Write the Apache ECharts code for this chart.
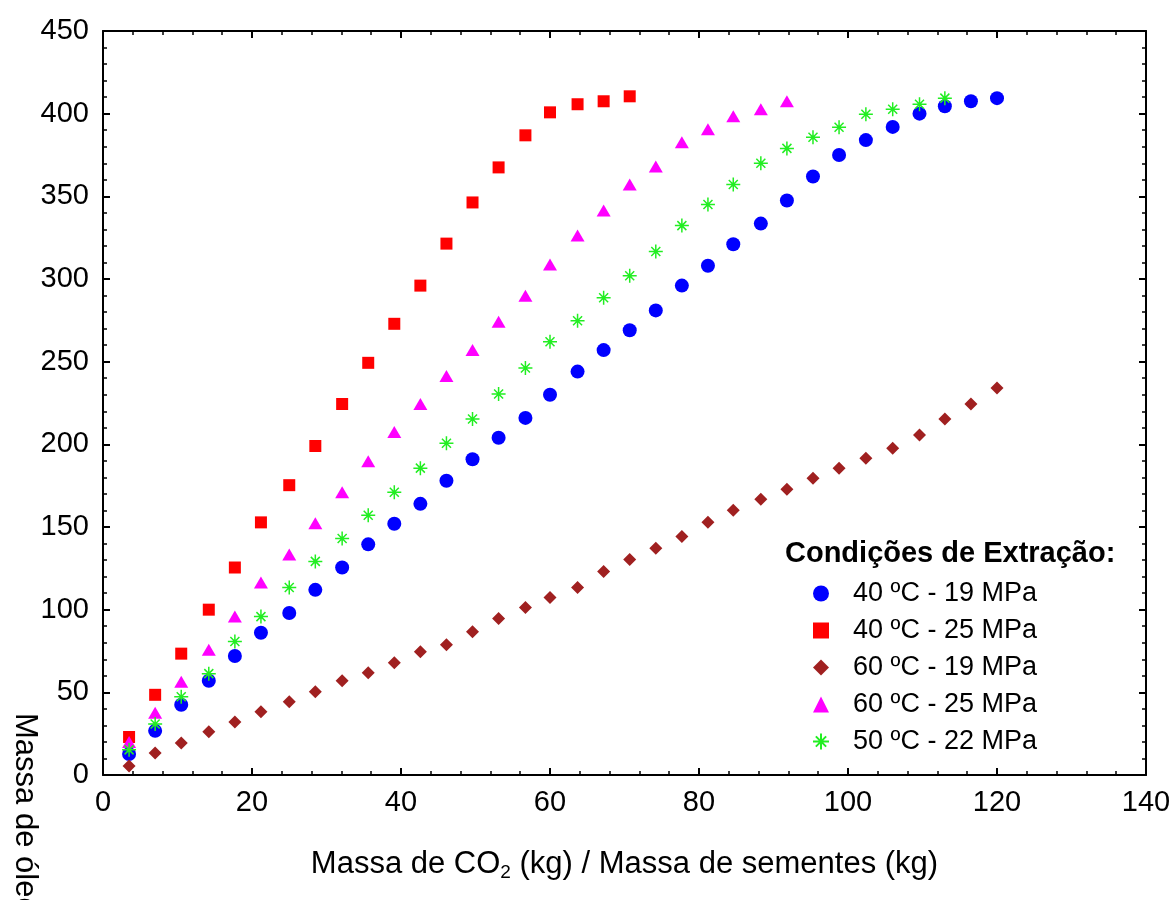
<!DOCTYPE html>
<html><head><meta charset="utf-8">
<script src="https://cdn.jsdelivr.net/npm/echarts@6/dist/echarts.min.js"></script>
<style>html,body{margin:0;padding:0;background:#fff}#c{width:1176px;height:900px}</style>
</head><body><div id="c"></div>
<script>
const xs = [3.5, 7.0, 10.5, 14.2, 17.7, 21.2, 25.0, 28.5, 32.1, 35.6, 39.1, 42.6, 46.1, 49.6, 53.1, 56.7, 60.0, 63.7, 67.2, 70.7, 74.2, 77.7, 81.2, 84.6, 88.3, 91.8, 95.3, 98.8, 102.4, 106.0, 109.6, 113.0, 116.5, 120.0];
const s40_19 = [12.7, 26.7, 42.5, 57, 72, 86, 98, 112, 125.5, 139.5, 152, 164, 178, 191, 204, 216, 230, 244, 257, 269, 281, 296, 308, 321, 333.5, 347.5, 362, 375, 384, 392, 400, 404.5, 407.5, 409.4];
const s40_25 = [23, 48.5, 73.4, 100, 125.5, 152.8, 175.3, 199, 224.4, 249.3, 272.9, 296, 321.4, 346.3, 367.5, 386.9, 400.8, 405.7, 407.5, 410.5];
const s60_19 = [5.5, 13.3, 19.4, 26.1, 32.1, 38.2, 44.3, 50.3, 57, 61.9, 67.9, 74.6, 78.8, 86.7, 94.6, 101.3, 107.3, 113.4, 123.1, 130.4, 137.1, 144.3, 152.8, 160.1, 166.8, 172.8, 179.5, 185.6, 191.6, 197.7, 205.6, 215.3, 224.4, 234.1];
const s60_25 = [20, 37.6, 56.4, 75.8, 95.8, 116.4, 133.4, 152.2, 171, 189.8, 207.4, 224.4, 241.4, 257.1, 274.1, 289.9, 308.7, 326.3, 341.4, 357.2, 368.1, 382.7, 390.6, 398.4, 402.7, 407.5];
const s50_22 = [15.2, 30.9, 47.3, 61.3, 80.7, 95.8, 113.4, 129.2, 143.1, 157.1, 171, 185.6, 200.7, 215.3, 230.5, 246.2, 262, 274.7, 288.7, 302, 316.6, 332.3, 345.1, 357.2, 370, 379, 385.7, 391.8, 399.7, 402.7, 405.7, 409.4];
const seriesNames = ['40 ºC - 19 MPa', '40 ºC - 25 MPa', '60 ºC - 19 MPa', '60 ºC - 25 MPa', '50 ºC - 22 MPa'];
const xTitle = 'Massa de CO{sub|2} (kg) / Massa de sementes (kg)';
const yTitle = 'Massa de óleo (g)';
const legendTitle = 'Condições de Extração:';

const FONT = '"Liberation Sans", Arial, sans-serif';
const pair = ys => ys.map((y, i) => [xs[i], y]);
const asterisk = 'path://M7 0 L7 14 M0 7 L14 7 M2.5 2.5 L11.5 11.5 M11.5 2.5 L2.5 11.5';

const chart = echarts.init(document.getElementById('c'), null, {renderer: 'canvas'});
const axisCommon = {
  axisLine: {show: true, onZero: false, lineStyle: {color: '#000', width: 2}},
  axisTick: {show: true, inside: true, length: 7, lineStyle: {color: '#000', width: 2}},
  minorTick: {show: true, splitNumber: 5, length: 4, lineStyle: {color: '#000', width: 1.5}},
  splitLine: {show: false}
};
chart.setOption({
  animation: false,
  backgroundColor: '#fff',
  textStyle: {fontFamily: FONT},
  grid: {left: 103, right: 30, top: 31, bottom: 125, containLabel: false},
  xAxis: [
    Object.assign({type: 'value', min: 0, max: 140, interval: 20, position: 'bottom',
      name: xTitle, nameLocation: 'middle', nameGap: 72,
      nameTextStyle: {fontSize: 31, color: '#000', fontFamily: FONT,
        rich: {sub: {fontSize: 19, verticalAlign: 'bottom', padding: [16, 0, 0, 0], color: '#000', fontFamily: FONT}}},
      axisLabel: {fontSize: 29, color: '#000', margin: 13, fontFamily: FONT}}, axisCommon),
    Object.assign({type: 'value', min: 0, max: 140, interval: 20, position: 'top',
      axisLabel: {show: false}}, axisCommon)
  ],
  yAxis: [
    Object.assign({type: 'value', min: 0, max: 450, interval: 50, position: 'left',
      axisLabel: {fontSize: 29, color: '#000', margin: 14, fontFamily: FONT}}, axisCommon),
    Object.assign({type: 'value', min: 0, max: 450, interval: 50, position: 'right',
      axisLabel: {show: false}}, axisCommon)
  ],
  legend: {
    orient: 'vertical', left: 807, top: 575, itemGap: 10, itemWidth: 16, itemHeight: 16,
    textStyle: {fontSize: 27, color: '#000', fontFamily: FONT, padding: [0, 0, 0, 19]},
    data: seriesNames
  },
  graphic: [
    {type: 'text', left: 785, top: 539, style: {text: legendTitle, font: 'bold 29px ' + FONT, fill: '#000'}},
    {type: 'text', x: 25, y: 713, rotation: -Math.PI / 2,
      style: {text: yTitle, font: '31px ' + FONT, fill: '#000', textAlign: 'left', textVerticalAlign: 'middle'}}
  ],
  series: [
    {name: seriesNames[0], type: 'scatter', symbol: 'circle', symbolSize: 14, itemStyle: {color: '#0000ff', opacity: 1}, data: pair(s40_19)},
    {name: seriesNames[1], type: 'scatter', symbol: 'rect', symbolSize: 12, itemStyle: {color: '#ff0000', opacity: 1}, data: pair(s40_25)},
    {name: seriesNames[2], type: 'scatter', symbol: 'diamond', symbolSize: [13, 13], itemStyle: {color: '#a02020', opacity: 1}, data: pair(s60_19)},
    {name: seriesNames[3], type: 'scatter', symbol: 'triangle', symbolSize: [14, 12], itemStyle: {color: '#ff00ff', opacity: 1}, data: pair(s60_25)},
    {name: seriesNames[4], type: 'scatter', symbol: asterisk, symbolSize: 14, itemStyle: {color: 'rgba(0,0,0,0)', borderColor: '#22ee22', borderWidth: 1.5, opacity: 1}, data: pair(s50_22)}
  ]
});
</script></body></html>
